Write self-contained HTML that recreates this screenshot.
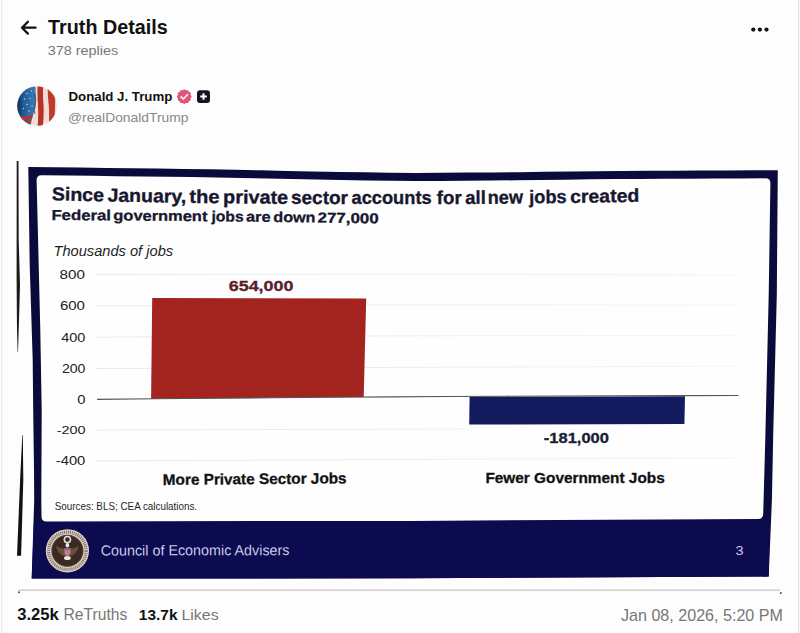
<!DOCTYPE html>
<html>
<head>
<meta charset="utf-8">
<style>
html,body{margin:0;padding:0;background:#fff;}
body{width:800px;height:633px;overflow:hidden;position:relative;font-family:"Liberation Sans",sans-serif;}
svg{position:absolute;left:0;top:0;display:block;}
text{font-family:"Liberation Sans",sans-serif;}
</style>
</head>
<body>
<svg width="800" height="633" viewBox="0 0 800 633">
<defs><clipPath id="avclip"><circle cx="37" cy="106" r="19.8"/></clipPath><linearGradient id="gridg" gradientUnits="userSpaceOnUse" x1="96" y1="0" x2="739" y2="0"><stop offset="0" stop-color="#e8e8e8"/><stop offset="0.5" stop-color="#ededed"/><stop offset="1" stop-color="#f5f5f5"/></linearGradient></defs>
<rect x="0" y="0" width="800" height="633" fill="#fdfdfd"/>
<rect x="1" y="0" width="1.2" height="633" fill="#ebebeb"/>
<rect x="798" y="0" width="1.4" height="633" fill="#e6e6e6"/>
<path d="M22 27.7 H35.6 M22 27.7 L27.9 21.7 M22 27.7 L27.9 33.6" stroke="#111" stroke-width="2.3" fill="none" stroke-linecap="round" stroke-linejoin="round"/>
<text x="48.10" y="33.90" font-size="19.71" font-weight="bold" fill="#111" textLength="119.62" lengthAdjust="spacingAndGlyphs">Truth Details</text>
<text x="47.72" y="55.30" font-size="13.43" fill="#777" textLength="70.51" lengthAdjust="spacingAndGlyphs">378 replies</text>
<circle cx="753.3" cy="29.6" r="2.1" fill="#111"/>
<circle cx="759.9" cy="29.6" r="2.1" fill="#111"/>
<circle cx="766.5" cy="29.6" r="2.1" fill="#111"/>
<defs><linearGradient id="avblue" x1="0" y1="0" x2="1" y2="0">
<stop offset="0" stop-color="#0a2244"/><stop offset="0.35" stop-color="#1f5a92"/><stop offset="1" stop-color="#3a80b8"/></linearGradient></defs>
<g clip-path="url(#avclip)">
    <rect x="16" y="85" width="42" height="42" fill="#f2dcd3"/>
    <path d="M16 85 L35.4 85 L35.9 97 L35.4 106.5 L34 111.8 L32.5 116.5 L30 127 L16 127 Z" fill="url(#avblue)"/>
    <path d="M20 117 L33 115 L32 118.5 L19.5 121 Z M21 122.5 L31.5 120.5 L30.5 124 L21.5 126 Z" fill="#b8342c"/>
    <path d="M37.6 85 L43.2 85 Q42.6 96 43.6 106 Q44 116 42.8 127 L37.6 127 Q38.6 116 38 106 Q37.2 96 37.6 85 Z" fill="#b83229"/>
    <path d="M47.6 85 L54 85 L55.2 100 L54.4 127 L48.5 127 Q49.6 116 48.8 106 Q47.6 96 47.6 85 Z" fill="#bf3a2a"/>
    <path d="M34.6 94 Q36.6 100 35 106 Q33.6 110 34.8 114" stroke="#3a2a30" stroke-width="1.2" fill="none" opacity="0.6"/>
    <g fill="#cfe3f2" opacity="0.85">
      <circle cx="27" cy="93.5" r="0.8"/><circle cx="31.5" cy="91" r="0.7"/><circle cx="24.5" cy="99" r="0.8"/>
      <circle cx="30" cy="98.5" r="0.7"/><circle cx="27" cy="104.5" r="0.8"/><circle cx="32" cy="106" r="0.7"/>
      <circle cx="23.5" cy="108.5" r="0.7"/><circle cx="29" cy="111" r="0.8"/>
    </g>
  </g>
<text x="68.54" y="100.90" font-size="12.97" font-weight="bold" fill="#111" textLength="103.78" lengthAdjust="spacingAndGlyphs">Donald J. Trump</text>
<polygon points="191.70,96.60 191.19,97.51 190.58,98.30 190.72,99.28 190.70,100.32 189.80,100.86 188.88,101.23 188.51,102.15 187.97,103.05 186.93,103.07 185.95,102.93 185.16,103.54 184.25,104.05 183.34,103.54 182.55,102.93 181.57,103.07 180.53,103.05 179.99,102.15 179.62,101.23 178.70,100.86 177.80,100.32 177.78,99.28 177.92,98.30 177.31,97.51 176.80,96.60 177.31,95.69 177.92,94.90 177.78,93.92 177.80,92.88 178.70,92.34 179.62,91.97 179.99,91.05 180.53,90.15 181.57,90.13 182.55,90.27 183.34,89.66 184.25,89.15 185.16,89.66 185.95,90.27 186.93,90.13 187.97,90.15 188.51,91.05 188.88,91.97 189.80,92.34 190.70,92.87 190.72,93.92 190.58,94.90 191.19,95.69" fill="#e1537b"/>
<path d="M181.1 96.8 L183.4 99.0 L187.5 94.6" stroke="#fbe6ee" stroke-width="1.8" fill="none" stroke-linecap="round" stroke-linejoin="round"/>
<rect x="197" y="90.2" width="13" height="12.8" rx="3" fill="#121420"/>
<path d="M203.5 93.2 V99.8 M200.2 96.5 H206.8" stroke="#fff" stroke-width="2" stroke-linecap="butt"/>
<text x="67.99" y="121.70" font-size="13.04" fill="#888" textLength="120.55" lengthAdjust="spacingAndGlyphs">@realDonaldTrump</text>
<path d="M16.7 161 L16.6 280 L17.0 330 L17.6 352 L18.0 352 L19.0 320 L20.0 285 L18.7 240 L18.5 161 Z" fill="#1a1a1a"/>
<path d="M22.3 435 L20.1 480 L17.0 555.8 L21.1 555.8 L23.3 480 L22.8 435 Z" fill="#121212"/>
<rect x="18" y="589.4" width="762" height="1.6" fill="#d4d4d4"/>
<rect x="18.2" y="591.5" width="1.6" height="1.6" fill="#333"/>
<rect x="780" y="592.3" width="1.6" height="1.6" fill="#333"/>
<path d="M28.3 166.90 L54.14 167.24 L79.99 167.58 L105.83 167.91 L131.68 168.25 L157.52 168.58 L183.37 168.92 L209.21 169.29 L235.06 169.83 L260.90 170.37 L286.75 170.91 L312.59 171.45 L338.44 171.89 L364.28 172.29 L390.13 172.69 L415.97 172.96 L441.82 172.78 L467.66 172.60 L493.51 172.42 L519.35 172.18 L545.20 171.84 L571.04 171.51 L596.89 171.17 L622.73 170.94 L648.58 170.82 L674.42 170.69 L700.27 170.57 L726.11 170.45 L751.96 170.32 L777.80 170.20 L776.8 295 L773.2 435 L771.9 500 L768.7 576.6 L410 578.3 L31.7 578.6 L34.2 500 L34 470 L33.2 410 L32.7 360 L29.7 265 Z" fill="#0a0b3a"/>
<path d="M34 521.4 L410 520.9 L769.8 519 L768.7 576.6 L410 578.3 L31.7 578.6 Z" fill="#0c0b4f"/>
<path d="M36.6 180.11 Q36.6 175.11 41.6 175.18 L66.56 175.50 L91.52 175.83 L116.48 176.15 L141.43 176.47 L166.39 176.80 L191.35 177.12 L216.31 177.54 L241.27 178.06 L266.23 178.58 L291.19 179.10 L316.14 179.62 L341.10 180.03 L366.06 180.42 L391.02 180.80 L415.98 181.06 L440.94 180.88 L465.90 180.71 L490.86 180.53 L515.81 180.32 L540.77 180.00 L565.73 179.68 L590.69 179.35 L615.65 179.07 L640.61 178.95 L665.57 178.84 L690.52 178.72 L715.48 178.60 L740.44 178.48 L765.40 178.36 Q770.4 178.34 770.4 183.34 L768.7 295 L765.4 435 L763.2 514 Q763 519 758 519 L410 520.9 L46.5 521.4 Q41.5 521.4 41.5 516.4 L41.3 500 L41.7 410 L40.3 330 L38.7 265 Z" fill="#fefefe"/>
<text x="51.66" y="200.26" font-size="18.7" font-weight="bold" fill="#17172e" textLength="52.18" lengthAdjust="spacingAndGlyphs" transform="rotate(1.24 51.66 200.26)" stroke="#17172e" stroke-width="0.35">Since</text>
<text x="107.46" y="201.46" font-size="18.7" font-weight="bold" fill="#17172e" textLength="78.69" lengthAdjust="spacingAndGlyphs" transform="rotate(0.96 107.46 201.46)" stroke="#17172e" stroke-width="0.35">January,</text>
<text x="189.20" y="202.82" font-size="18.7" font-weight="bold" fill="#17172e" textLength="30.21" lengthAdjust="spacingAndGlyphs" transform="rotate(0.73 189.20 202.82)" stroke="#17172e" stroke-width="0.35">the</text>
<text x="223.11" y="203.25" font-size="18.7" font-weight="bold" fill="#17172e" textLength="64.97" lengthAdjust="spacingAndGlyphs" transform="rotate(0.52 223.11 203.25)" stroke="#17172e" stroke-width="0.35">private</text>
<text x="290.93" y="203.86" font-size="18.7" font-weight="bold" fill="#17172e" textLength="57.08" lengthAdjust="spacingAndGlyphs" transform="rotate(0.26 290.93 203.86)" stroke="#17172e" stroke-width="0.35">sector</text>
<text x="351.55" y="204.13" font-size="18.7" font-weight="bold" fill="#17172e" textLength="80.08" lengthAdjust="spacingAndGlyphs" stroke="#17172e" stroke-width="0.35">accounts</text>
<text x="436.82" y="204.07" font-size="18.7" font-weight="bold" fill="#17172e" textLength="24.92" lengthAdjust="spacingAndGlyphs" transform="rotate(-0.26 436.82 204.07)" stroke="#17172e" stroke-width="0.35">for</text>
<text x="465.35" y="203.94" font-size="18.7" font-weight="bold" fill="#17172e" textLength="20.48" lengthAdjust="spacingAndGlyphs" transform="rotate(-0.37 465.35 203.94)" stroke="#17172e" stroke-width="0.35">all</text>
<text x="487.82" y="203.79" font-size="18.7" font-weight="bold" fill="#17172e" textLength="35.17" lengthAdjust="spacingAndGlyphs" transform="rotate(-0.49 487.82 203.79)" stroke="#17172e" stroke-width="0.35">new</text>
<text x="529.27" y="203.43" font-size="18.7" font-weight="bold" fill="#17172e" textLength="37.47" lengthAdjust="spacingAndGlyphs" transform="rotate(-0.66 529.27 203.43)" stroke="#17172e" stroke-width="0.35">jobs</text>
<text x="570.22" y="202.95" font-size="18.7" font-weight="bold" fill="#17172e" textLength="69.09" lengthAdjust="spacingAndGlyphs" transform="rotate(-0.89 570.22 202.95)" stroke="#17172e" stroke-width="0.35">created</text>
<text x="51.41" y="219.99" font-size="14.5" font-weight="bold" fill="#17172e" textLength="59.51" lengthAdjust="spacingAndGlyphs" transform="rotate(0.37 51.41 219.99)" stroke="#17172e" stroke-width="0.3">Federal</text>
<text x="113.34" y="220.39" font-size="14.5" font-weight="bold" fill="#17172e" textLength="94.08" lengthAdjust="spacingAndGlyphs" transform="rotate(0.51 113.34 220.39)" stroke="#17172e" stroke-width="0.3">government</text>
<text x="211.43" y="221.26" font-size="14.5" font-weight="bold" fill="#17172e" textLength="32.20" lengthAdjust="spacingAndGlyphs" transform="rotate(0.62 211.43 221.26)" stroke="#17172e" stroke-width="0.3">jobs</text>
<text x="246.01" y="221.64" font-size="14.5" font-weight="bold" fill="#17172e" textLength="24.59" lengthAdjust="spacingAndGlyphs" transform="rotate(0.67 246.01 221.64)" stroke="#17172e" stroke-width="0.3">are</text>
<text x="273.35" y="221.96" font-size="14.5" font-weight="bold" fill="#17172e" textLength="42.12" lengthAdjust="spacingAndGlyphs" transform="rotate(0.73 273.35 221.96)" stroke="#17172e" stroke-width="0.3">down</text>
<text x="317.61" y="222.53" font-size="14.5" font-weight="bold" fill="#17172e" textLength="60.96" lengthAdjust="spacingAndGlyphs" transform="rotate(0.83 317.61 222.53)" stroke="#17172e" stroke-width="0.3">277,000</text>
<text x="53.48" y="256.40" font-size="13.91" font-style="italic" fill="#1e1e1e" textLength="119.64" lengthAdjust="spacingAndGlyphs">Thousands of jobs</text>
<path d="M96 274.40 Q417.5 273.50 739 275.00" stroke="url(#gridg)" stroke-width="1" fill="none"/>
<path d="M96 306.00 Q417.5 304.30 739 305.00" stroke="url(#gridg)" stroke-width="1" fill="none"/>
<path d="M96 337.20 Q417.5 335.20 739 335.60" stroke="url(#gridg)" stroke-width="1" fill="none"/>
<path d="M96 368.50 Q417.5 367.35 739 366.20" stroke="url(#gridg)" stroke-width="1" fill="none"/>
<path d="M96 430.00 L465 429.00" stroke="url(#gridg)" stroke-width="1" fill="none"/>
<path d="M96 461.00 Q417.5 459.40 739 457.80" stroke="url(#gridg)" stroke-width="1" fill="none"/>
<text x="59.62" y="279.10" font-size="12.86" fill="#222" textLength="25.37" lengthAdjust="spacingAndGlyphs">800</text>
<text x="59.95" y="310.40" font-size="13.14" fill="#222" textLength="25.03" lengthAdjust="spacingAndGlyphs">600</text>
<text x="61.21" y="341.70" font-size="12.57" fill="#222" textLength="24.15" lengthAdjust="spacingAndGlyphs">400</text>
<text x="61.90" y="372.80" font-size="12.43" fill="#222" textLength="23.44" lengthAdjust="spacingAndGlyphs">200</text>
<text x="77.21" y="403.60" font-size="12.43" fill="#222" textLength="8.23" lengthAdjust="spacingAndGlyphs">0</text>
<text x="56.65" y="433.80" font-size="11.29" fill="#222" textLength="28.77" lengthAdjust="spacingAndGlyphs">-200</text>
<text x="55.84" y="464.60" font-size="12.57" fill="#222" textLength="29.50" lengthAdjust="spacingAndGlyphs">-400</text>
<path d="M152.2 298.1 L366.2 298.5 L363.7 397.1 L151.1 398.9 Z" fill="#a3241f"/>
<path d="M469.6 396.8 L685 396.3 L684.4 424.1 L469.2 424.5 Z" fill="#131b5e"/>
<path d="M97.00 399.37 L155.32 398.76 L213.64 398.20 L271.95 397.69 L330.27 397.24 L388.59 396.83 L446.91 396.48 L505.23 396.19 L563.55 395.94 L621.86 395.75 L680.18 395.61 L738.50 395.53" stroke="#555" stroke-width="1.1" fill="none"/>
<text x="228.77" y="290.50" font-size="14.43" font-weight="bold" fill="#5a1d2c" textLength="64.69" lengthAdjust="spacingAndGlyphs" stroke="#5a1d2c" stroke-width="0.3">654,000</text>
<text x="543.84" y="442.50" font-size="14.29" font-weight="bold" fill="#1b2034" textLength="65.07" lengthAdjust="spacingAndGlyphs" stroke="#1b2034" stroke-width="0.3">-181,000</text>
<text x="162.86" y="484.90" font-size="15.22" font-weight="bold" fill="#111" textLength="183.75" lengthAdjust="spacingAndGlyphs" stroke="#111" stroke-width="0.3" transform="rotate(-0.47 163.85 484.90)">More Private Sector Jobs</text>
<text x="485.40" y="483.00" font-size="15.22" font-weight="bold" fill="#111" textLength="179.31" lengthAdjust="spacingAndGlyphs" stroke="#111" stroke-width="0.3">Fewer Government Jobs</text>
<text x="54.76" y="510.20" font-size="10.72" fill="#262626" textLength="142.35" lengthAdjust="spacingAndGlyphs">Sources: BLS; CEA calculations.</text>
<g>
    <circle cx="67.4" cy="550.8" r="21.6" fill="#ddd4c8"/>
    <circle cx="67.4" cy="550.8" r="18.7" fill="none" stroke="#4a3a30" stroke-width="3.2" stroke-dasharray="1.1 0.9" opacity="0.6"/>
    <circle cx="67.4" cy="550.8" r="16" fill="#3a2a21"/>
    <circle cx="67.4" cy="550.8" r="15.4" fill="none" stroke="#8c7660" stroke-width="0.6" stroke-dasharray="0.8 0.8"/>
    <circle cx="67.4" cy="539.6" r="3.1" fill="none" stroke="#e6e2e0" stroke-width="1.5"/>
    <path d="M56 546 Q61 549 64.5 548.5 L70.3 548.5 Q73.8 549 78.8 546 Q77 554 70.5 556 L64.3 556 Q57.8 554 56 546 Z" fill="#6b5038"/>
    <ellipse cx="67.4" cy="545.2" rx="1.8" ry="2.2" fill="#efe9e4"/>
    <path d="M64.4 548.2 h6 v4.4 q0 2.4 -3 3.3 q-3 -0.9 -3 -3.3 Z" fill="#c8788a"/>
    <rect x="64.4" y="548.2" width="6" height="1.6" fill="#5a6aa8"/>
    <ellipse cx="67.4" cy="558" rx="3.4" ry="2.1" fill="#ece6e2"/>
  </g>
<text x="100.68" y="555.50" font-size="14.64" fill="#c8c8ea" textLength="188.79" lengthAdjust="spacingAndGlyphs" transform="rotate(-0.12 101.40 555.50)">Council of Economic Advisers</text>
<text x="735.52" y="554.70" font-size="13.57" fill="#c8c8ea" textLength="8.08" lengthAdjust="spacingAndGlyphs">3</text>
<text x="17.28" y="620.20" font-size="15.57" font-weight="bold" fill="#111" textLength="41.56" lengthAdjust="spacingAndGlyphs">3.25k</text>
<text x="63.55" y="620.20" font-size="15.80" fill="#777" textLength="63.70" lengthAdjust="spacingAndGlyphs">ReTruths</text>
<text x="138.82" y="620.25" font-size="15.00" font-weight="bold" fill="#111" textLength="38.72" lengthAdjust="spacingAndGlyphs">13.7k</text>
<text x="181.48" y="620.25" font-size="15.22" fill="#777" textLength="37.17" lengthAdjust="spacingAndGlyphs">Likes</text>
<text x="620.96" y="620.60" font-size="15.72" fill="#777" textLength="161.97" lengthAdjust="spacingAndGlyphs">Jan 08, 2026, 5:20 PM</text>
</svg>
</body>
</html>
